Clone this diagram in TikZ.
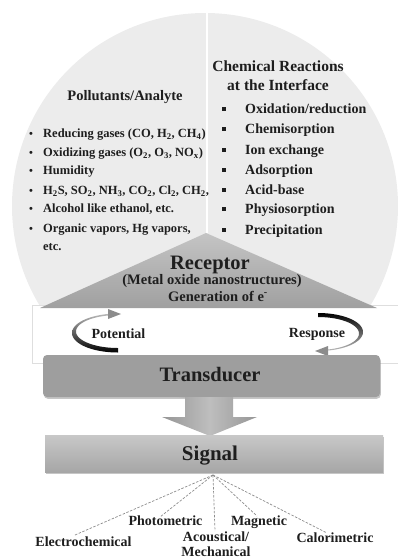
\documentclass[tikz,border=0pt]{standalone}
\usepackage{fontspec}
\setmainfont{Liberation Serif}
\usetikzlibrary{shadows}
\definecolor{circ}{RGB}{236,236,236}
\definecolor{txt}{RGB}{30,30,30}
\definecolor{tritop}{RGB}{196,196,196}
\definecolor{tribot}{RGB}{160,160,160}
\definecolor{tdc}{RGB}{158,158,158}
\definecolor{sigtop}{RGB}{200,200,200}
\definecolor{sigbot}{RGB}{166,166,166}
\definecolor{arrA}{RGB}{150,150,150}
\definecolor{arrB}{RGB}{190,190,190}
\definecolor{headgray}{RGB}{140,140,140}
\definecolor{bandline}{RGB}{222,222,222}
\definecolor{dash}{RGB}{140,140,140}
\begin{document}
\begin{tikzpicture}[x=1pt,y=-1pt,
  lbl/.style={inner sep=0pt, text=txt, font=\bfseries\fontsize{14}{16}\selectfont},
  lst/.style={lbl, anchor=base west, font=\bfseries\fontsize{12.5}{15}\selectfont},
  blt/.style={lbl, anchor=base, font=\bfseries\fontsize{11}{13}\selectfont},
  rlst/.style={lbl, anchor=base west},
  head/.style={lbl, anchor=base, font=\bfseries\fontsize{15.5}{18}\selectfont},
  big/.style={lbl, anchor=base, font=\bfseries\fontsize{20.5}{24}\selectfont},
  mid/.style={lbl, anchor=base, font=\bfseries\fontsize{14.5}{17}\selectfont},
  bot/.style={lbl, anchor=base},
  dline/.style={draw=dash, line width=0.7pt, dash pattern=on 2.5pt off 1.5pt}]
\useasboundingbox (0,0) rectangle (398,558);
% circle and divider
\fill[circ] (205,206) circle[radius=193pt];
\draw[white, line width=1.5pt] (207,13) -- (207,233);
% white band
\filldraw[fill=white, draw=bandline, line width=0.6pt] (32,305) rectangle (402,363);
% receptor triangle
\shade[top color=tritop, bottom color=tribot] (206,233) -- (377,308) -- (40,308) -- cycle;
% potential arrow
\shade[top color=gray!55, bottom color=black]
  plot[domain=90:262, samples=50] ({118+46*cos(\x)},{333+19.5*sin(\x)})
  -- plot[domain=262:90, samples=50] ({118+42*cos(\x)},{331.5+16.5*sin(\x)}) -- cycle;
\fill[headgray] (121,314) -- (108,309) -- (108,319) -- cycle;
% response arrow
\shade[top color=black, bottom color=gray!55]
  plot[domain=-90:78, samples=50] ({318+45*cos(\x)},{332+19*sin(\x)})
  -- plot[domain=78:-90, samples=50] ({318+41*cos(\x)},{333.5+16.5*sin(\x)}) -- cycle;
\fill[headgray] (315,351) -- (328,346) -- (328,356) -- cycle;
% transducer
\node[rectangle, rounded corners=4pt, minimum width=337pt, minimum height=42pt,
      fill=tdc, drop shadow={opacity=0.45, shadow xshift=0.8pt, shadow yshift=-1.8pt}]
      (trans) at (211.5,376) {};
% big arrow
\shade[left color=arrA, right color=arrA, middle color=arrB]
  (185,397) -- (233,397) -- (233,417) -- (257,417) -- (210,436) -- (162,417) -- (185,417) -- cycle;
% signal
\node[rectangle, minimum width=338pt, minimum height=37pt, top color=sigtop, bottom color=sigbot,
      drop shadow={opacity=0.45, shadow xshift=0.8pt, shadow yshift=-1.8pt}]
      (sig) at (214,453.5) {};
% left column
\node[head, font=\bfseries\fontsize{14.5}{17}\selectfont] (polt) at (125,100) {Pollutants/Analyte};
\foreach \yy in {137.5,156.5,174.5,194.5,212.5,232.5} \node[blt] at (31,\yy) {\textbullet};
\node[lst] (l1) at (43,137.5) {Reducing gases (CO, H\textsubscript{2}, CH\textsubscript{4})};
\node[lst] (l2) at (43,156.5) {Oxidizing gases (O\textsubscript{2}, O\textsubscript{3}, NO\textsubscript{x})};
\node[lst] (l3) at (43,174.5) {Humidity};
\node[lst] (l4) at (43,194.5) {H\textsubscript{2}S, SO\textsubscript{2}, NH\textsubscript{3}, CO\textsubscript{2}, Cl\textsubscript{2}, CH\textsubscript{2},};
\node[lst] (l5) at (43,212.5) {Alcohol like ethanol, etc.};
\node[lst] (l6) at (43,232.5) {Organic vapors, Hg vapors,};
\node[lst] (l7) at (43,250.5) {etc.};
% right column
\node[head] (chem1) at (278,71.5) {Chemical Reactions};
\node[head] (chem2) at (278,90.5) {at the Interface};
\foreach \yy in {109,129,150,170,190,209,230} \fill[txt] (221.8,\yy-2.2) rectangle (226.2,\yy+2.2);
\node[rlst] (r1) at (245,113.6) {Oxidation/reduction};
\node[rlst] (r2) at (245,133.6) {Chemisorption};
\node[rlst] (r3) at (245,154.6) {Ion exchange};
\node[rlst] (r4) at (245,174.6) {Adsorption};
\node[rlst] (r5) at (245,194.6) {Acid-base};
\node[rlst] (r6) at (245,213.6) {Physiosorption};
\node[rlst] (r7) at (245,234.6) {Precipitation};
% receptor texts
\node[big] (rec) at (210,269) {Receptor};
\node[mid] (rec2) at (212,284) {(Metal oxide nanostructures)};
\node[mid] (rec3) at (218,301) {Generation of e\textsuperscript{-}};
% potential / response
\node[bot] (pot) at (118.5,338) {Potential};
\node[bot] (resp) at (317,337) {Response};
% transducer / signal texts
\node[big] (transt) at (210,381) {Transducer};
\node[big, font=\bfseries\fontsize{21}{24}\selectfont] (sigt) at (210,460) {Signal};
% signal types
\coordinate (src) at (213,475);
\coordinate (e1) at (75,535);
\coordinate (e2) at (160,517);
\coordinate (e3) at (215,531);
\coordinate (e4) at (257,516);
\coordinate (e5) at (327,533);
\foreach \e in {e1,e2,e3,e4,e5} \draw[dline] (src) -- (\e);
\node[bot] (t1) at (83.5,546.5) {Electrochemical};
\node[bot] (t2) at (165.5,525.5) {Photometric};
\node[bot] (t3) at (216,541.5) {Acoustical/};
\node[bot] (t3b) at (216,556) {Mechanical};
\node[bot] (t4) at (259,525.5) {Magnetic};
\node[bot] (t5) at (335,542.5) {Calorimetric};
\end{tikzpicture}
\end{document}
